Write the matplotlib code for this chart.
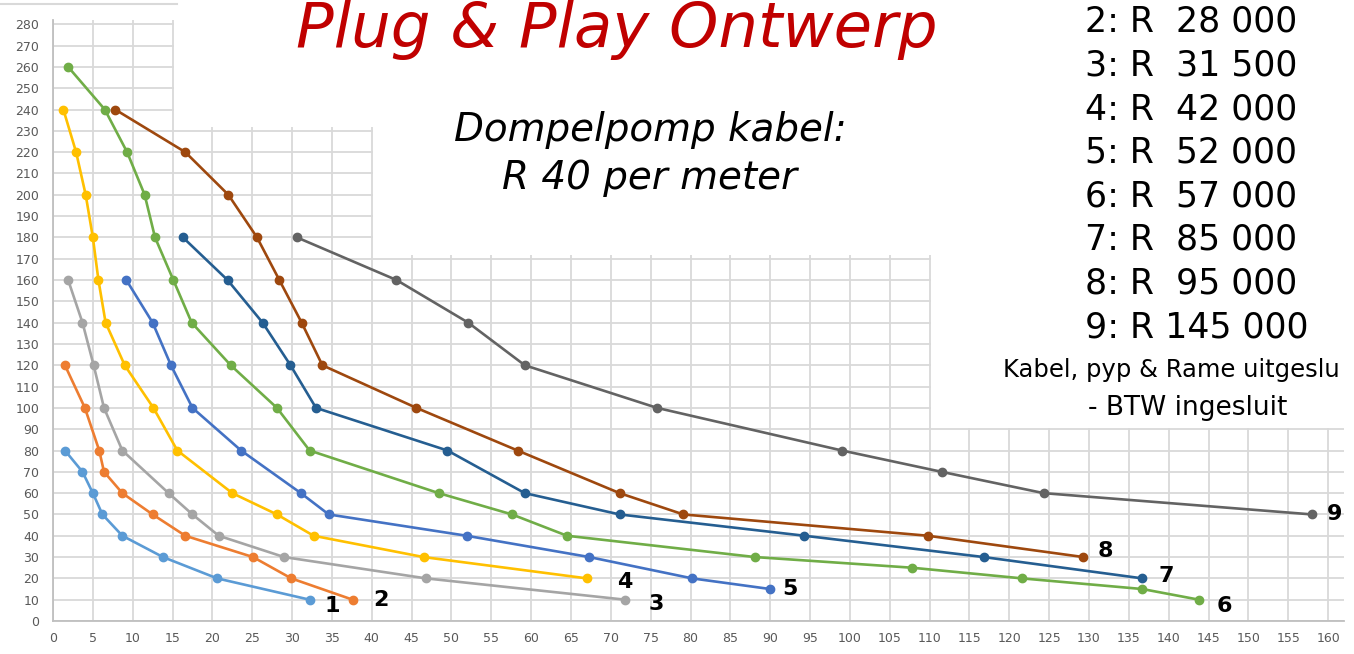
import matplotlib.pyplot as plt
from matplotlib.lines import Line2D
from matplotlib.patches import Rectangle

# pump curves 1..9
s1_x = [1.5, 3.7, 5.0, 6.2, 8.7, 13.8, 20.6, 32.2]
s1_y = [80, 70, 60, 50, 40, 30, 20, 10]
s2_x = [1.5, 4.0, 5.8, 6.4, 8.7, 12.5, 16.6, 25.1, 29.9, 37.6]
s2_y = [120, 100, 80, 70, 60, 50, 40, 30, 20, 10]
s3_x = [1.9, 3.7, 5.1, 6.4, 8.7, 14.5, 17.5, 20.8, 29.0, 46.8, 71.8]
s3_y = [160, 140, 120, 100, 80, 60, 50, 40, 30, 20, 10]
s4_x = [1.3, 2.9, 4.1, 5.0, 5.7, 6.6, 9.0, 12.6, 15.6, 22.5, 28.1, 32.7, 46.5, 67.0]
s4_y = [240, 220, 200, 180, 160, 140, 120, 100, 80, 60, 50, 40, 30, 20]
s5_x = [9.2, 12.5, 14.8, 17.5, 23.6, 31.1, 34.6, 51.9, 67.3, 80.2, 90.0]
s5_y = [160, 140, 120, 100, 80, 60, 50, 40, 30, 20, 15]
s6_x = [1.9, 6.5, 9.3, 11.5, 12.8, 15.1, 17.4, 22.3, 28.1, 32.2, 48.4, 57.6,
        64.5, 88.1, 107.8, 121.6, 136.7, 143.8]
s6_y = [260, 240, 220, 200, 180, 160, 140, 120, 100, 80, 60, 50, 40, 30, 25, 20, 15, 10]
s7_x = [16.3, 21.9, 26.3, 29.8, 33.0, 49.5, 59.2, 71.1, 94.3, 116.8, 136.7]
s7_y = [180, 160, 140, 120, 100, 80, 60, 50, 40, 30, 20]
s8_x = [7.8, 16.6, 22.0, 25.6, 28.4, 31.2, 33.8, 45.6, 58.3, 71.1, 79.1, 109.8, 129.3]
s8_y = [240, 220, 200, 180, 160, 140, 120, 100, 80, 60, 50, 40, 30]
s9_x = [30.6, 43.1, 52.1, 59.2, 75.8, 99.0, 111.5, 124.3, 158.0]
s9_y = [180, 160, 140, 120, 100, 80, 70, 60, 50]

prices = ["2: R  28 000", "3: R  31 500", "4: R  42 000", "5: R  52 000",
          "6: R  57 000", "7: R  85 000", "8: R  95 000", "9: R 145 000"]

SERIES = [(s1_x, s1_y), (s2_x, s2_y), (s3_x, s3_y), (s4_x, s4_y), (s5_x, s5_y),
          (s6_x, s6_y), (s7_x, s7_y), (s8_x, s8_y), (s9_x, s9_y)]
COLORS = ["#5b9bd5", "#ed7d31", "#a5a5a5", "#ffc000", "#4472c4",
          "#70ad47", "#255e91", "#9e480e", "#636363"]
# end-label offsets in pixels
LABEL_OFF = [(23, -6), (28, 0), (31, -4), (38, -4), (20, 0),
             (25, -6), (24, 2), (22, 6), (22, 0)]

fig = plt.figure(figsize=(13.54, 6.54), dpi=100)
ax = fig.add_axes([53 / 1354, 33 / 654, 1291 / 1354, 601 / 654])
ax.set_xlim(0, 162)
ax.set_ylim(0, 282)
ax.set_xticks(range(0, 161, 5))
ax.set_yticks(range(0, 281, 10))
ax.set_axisbelow(True)
ax.grid(True, color="#d9d9d9", linewidth=1.3)
ax.tick_params(length=0, labelsize=9, labelcolor="#595959")
ax.tick_params(axis="y", pad=10)
ax.tick_params(axis="x", pad=8)
for side in ("top", "right"):
    ax.spines[side].set_visible(False)
for side in ("left", "bottom"):
    ax.spines[side].set_color("#bfbfbf")
    ax.spines[side].set_linewidth(1.3)

# blank areas where the overlaid text boxes hide the grid
for x0, y0, x1, y1 in [(15.15, 232, 163, 283), (40.15, 171.5, 163, 232.5),
                       (110.15, 90.5, 163, 172)]:
    ax.add_patch(Rectangle((x0, y0), x1 - x0, y1 - y0, facecolor="white",
                           edgecolor="none", zorder=1))

for i, ((xs, ys), c) in enumerate(zip(SERIES, COLORS)):
    ax.plot(xs, ys, color=c, linewidth=1.9, marker="o", markersize=6, zorder=3)
    ax.annotate(str(i + 1), (xs[-1], ys[-1]), xytext=LABEL_OFF[i],
                textcoords="offset pixels", ha="center", va="center",
                fontsize=16, fontweight="bold", color="black")

fig.add_artist(Line2D([0, 177 / 1354], [1 - 4 / 654] * 2, color="#d9d9d9", linewidth=1.5))

fig.text(617 / 1354, 1 - 47 / 654, "Plug & Play Ontwerp", ha="center", va="baseline",
         fontsize=45, style="italic", color="#c00000")
fig.text(650 / 1354, 1 - 130 / 654, "Dompelpomp kabel:", ha="center", va="center",
         fontsize=28, style="italic", color="black")
fig.text(650 / 1354, 1 - 178 / 654, "R 40 per meter", ha="center", va="center",
         fontsize=28, style="italic", color="black")
for k, line in enumerate(prices):
    fig.text(1085 / 1354, 1 - (22 + 43.6 * k) / 654, line, ha="left", va="center",
             fontsize=25, color="black")
# the source image crops this line at its right edge
fig.text(1003 / 1354, 1 - 370 / 654, "Kabel, pyp & Rame uitgeslu", ha="left",
         va="center", fontsize=17.5, color="black")
fig.text(1188 / 1354, 1 - 408 / 654, "- BTW ingesluit", ha="center", va="center",
         fontsize=19, color="black")

fig.savefig("out.png", dpi=100)
